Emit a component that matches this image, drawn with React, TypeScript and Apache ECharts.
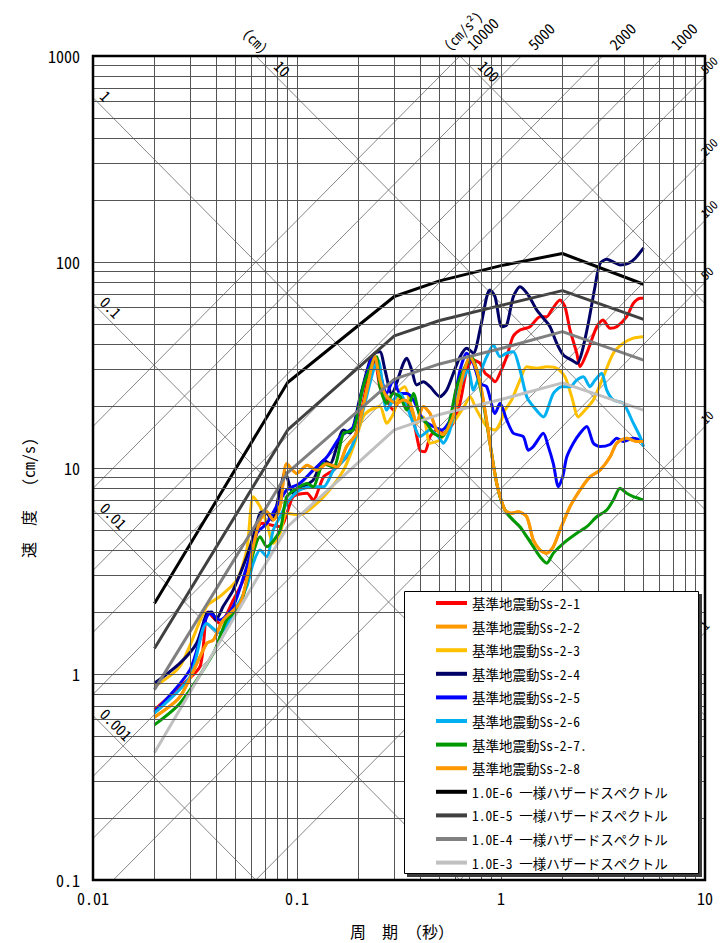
import React, { useEffect, useRef } from "react";
import * as echarts from "echarts";

// Tripartite response spectrum: pseudo-velocity vs. period, with
// constant displacement (cm) and constant acceleration (cm/s²) guide lines.

const FONT = "'Noto Sans Mono CJK JP', 'DejaVu Sans Mono', monospace";
const TWO_PI = 2 * Math.PI;

const T_MIN = 0.01;
const T_MAX = 10;
const SV_MIN = 0.1;
const SV_MAX = 1000;

const DISP_LINES = [0.001, 0.01, 0.1, 1, 10, 100];
const DISP_LABELS = ["0.001", "0.01", "0.1", "1", "10", "100"];
const ACC_LINES = [1, 10, 50, 100, 200, 500, 1000, 2000, 5000, 10000];
const ACC_LABELS = ["1", "10", "50", "100", "200", "500", "1000", "2000", "5000", "10000"];

// Uniform hazard spectra (annual exceedance probability)
const UHS_PERIODS = [0.02, 0.09, 0.3, 0.5, 1, 2, 5];
const UHS_1E6 = [2.2, 26, 68, 81, 96, 110, 78];
const UHS_1E5 = [1.33, 15.3, 43.8, 52, 61.6, 72.6, 52.7];
const UHS_1E4 = [0.84, 9.5, 27, 32, 38, 45.9, 33.4];
const UHS_1E3 = [0.415, 5.2, 15.3, 18.2, 21.5, 25.9, 19.1];

// Design basis ground motions: [period (s), velocity (cm/s)]
const SS2_1: [number, number][] = [
  [0.02, 0.669], [0.0267, 0.868], [0.0335, 1.09], [0.0366, 2.0], [0.0419, 1.76], [0.0487, 2.29],
  [0.0546, 2.86], [0.0611, 4.15], [0.0671, 5.39], [0.0826, 5.19], [0.0959, 7.26], [0.112, 7.54],
  [0.12, 6.99], [0.135, 9.06], [0.151, 9.76], [0.169, 10.9], [0.182, 11.8], [0.204, 17.7],
  [0.228, 29.9], [0.241, 32.8], [0.255, 24.8], [0.275, 21.4], [0.297, 19.1], [0.32, 21.4],
  [0.345, 20.6], [0.372, 17.1], [0.401, 12.2], [0.424, 12.0], [0.449, 14.2], [0.484, 15.3],
  [0.521, 14.8], [0.582, 16.5], [0.63, 20.7], [0.679, 29.9], [0.729, 33.4], [0.789, 32.3],
  [0.835, 28.9], [0.883, 27.7], [0.935, 26.2], [0.989, 28.9], [1.067, 34.7], [1.145, 43.4],
  [1.239, 46.8], [1.387, 48.5], [1.553, 54.3], [1.676, 54.3], [1.772, 58.5], [1.946, 65.4],
  [2.059, 60.7], [2.179, 46.8], [2.351, 36.1], [2.44, 31.0], [2.633, 36.1], [2.947, 48.5],
  [3.162, 52.3], [3.422, 47.7], [3.692, 48.5], [4.134, 54.3], [4.453, 63.0], [4.802, 66.7],
  [5.0, 66.7],
];

const SS2_8: [number, number][] = [
  [0.02, 0.617], [0.0267, 0.776], [0.0361, 1.41], [0.0389, 1.46], [0.0435, 1.83], [0.0526, 2.21],
  [0.0567, 2.86], [0.061, 4.15], [0.0659, 5.59], [0.0711, 6.13], [0.0765, 5.59], [0.0826, 6.49],
  [0.0891, 10.5], [0.0997, 9.41], [0.112, 10.3], [0.125, 9.76], [0.14, 10.5], [0.157, 10.1],
  [0.175, 12.7], [0.196, 14.8], [0.22, 23.9], [0.241, 34.7], [0.255, 26.7], [0.275, 22.2],
  [0.308, 20.6], [0.332, 21.4], [0.358, 20.6], [0.386, 16.5], [0.416, 19.9], [0.449, 18.4],
  [0.484, 15.3], [0.521, 14.5], [0.573, 17.1], [0.607, 20.6], [0.654, 28.8], [0.705, 34.7],
  [0.76, 29.9], [0.819, 21.4], [0.883, 13.2], [0.953, 8.42], [1.046, 6.25], [1.128, 6.03],
  [1.215, 6.13], [1.337, 5.8], [1.44, 4.47], [1.553, 4.0], [1.676, 3.86], [1.805, 4.15],
  [1.946, 5.0], [2.179, 6.49], [2.44, 7.82], [2.731, 9.06], [3.057, 9.76], [3.422, 11.3],
  [3.692, 13.2], [4.134, 13.95], [4.63, 13.44], [5.0, 13.44],
];

const SS2_2: [number, number][] = SS2_8.map(([t, v]) => [t, v]);

const SS2_3: [number, number][] = [
  [0.02, 0.868], [0.0267, 1.09], [0.0361, 2.13], [0.0419, 2.38], [0.0507, 2.86], [0.0567, 4.0],
  [0.061, 7.26], [0.0659, 6.49], [0.0711, 5.39], [0.0765, 4.31], [0.0826, 4.82], [0.0891, 6.03],
  [0.103, 5.91], [0.12, 6.49], [0.14, 7.54], [0.169, 9.76], [0.189, 12.7], [0.211, 17.7],
  [0.228, 19.1], [0.255, 19.9], [0.275, 16.5], [0.297, 18.4], [0.32, 23.9], [0.338, 24.8],
  [0.358, 20.6], [0.386, 16.5], [0.416, 17.7], [0.449, 13.2], [0.502, 13.7], [0.542, 15.3],
  [0.595, 17.1], [0.666, 20.2], [0.705, 22.2], [0.76, 19.1], [0.851, 15.9], [0.935, 15.3],
  [0.989, 16.5], [1.046, 19.1], [1.128, 21.4], [1.239, 26.7], [1.337, 31.0], [1.497, 30.5],
  [1.676, 31.0], [1.876, 30.5], [2.059, 27.7], [2.22, 22.2], [2.393, 17.7], [2.581, 19.1],
  [2.835, 21.4], [3.173, 27.7], [3.552, 36.1], [3.977, 40.3], [4.453, 42.7], [5.0, 43.4],
];

const SS2_4: [number, number][] = [
  [0.02, 0.901], [0.0267, 1.13], [0.0322, 1.41], [0.0361, 1.97], [0.0382, 2.0], [0.04, 1.83],
  [0.0435, 2.13], [0.0487, 2.56], [0.0567, 3.71], [0.061, 4.64], [0.0659, 6.03], [0.0697, 6.13],
  [0.0754, 5.59], [0.0826, 7.82], [0.0874, 9.57], [0.0959, 7.54], [0.107, 8.11], [0.12, 8.74],
  [0.135, 10.9], [0.145, 10.5], [0.169, 15.3], [0.182, 14.8], [0.204, 22.2], [0.228, 33.4],
  [0.241, 36.1], [0.255, 36.7], [0.27, 29.9], [0.291, 23.0], [0.332, 32.2], [0.345, 34.1],
  [0.365, 29.9], [0.386, 25.3], [0.416, 26.2], [0.449, 24.8], [0.502, 22.2], [0.542, 23.9],
  [0.584, 28.8], [0.63, 34.7], [0.679, 38.1], [0.732, 36.1], [0.789, 46.8], [0.851, 67.8],
  [0.883, 73.1], [0.935, 67.8], [1.008, 48.5], [1.067, 49.5], [1.149, 67.8], [1.239, 75.9],
  [1.361, 69.1], [1.497, 58.5], [1.612, 53.4], [1.739, 48.5], [1.876, 40.3], [2.022, 35.4],
  [2.22, 33.4], [2.363, 32.2], [2.486, 36.1], [2.679, 50.4], [2.889, 75.9], [3.057, 98.5],
  [3.299, 103], [3.552, 100], [3.831, 96.7], [4.207, 98.5], [4.539, 104], [5.0, 117],
];

const SS2_5: [number, number][] = [
  [0.02, 0.654], [0.0299, 1.05], [0.0375, 1.97], [0.0419, 1.83], [0.0487, 2.13], [0.0567, 3.32],
  [0.0635, 4.82], [0.0711, 5.39], [0.0826, 6.99], [0.0891, 7.82], [0.103, 8.42], [0.12, 9.76],
  [0.14, 11.3], [0.163, 14.2], [0.189, 15.9], [0.211, 24.8], [0.237, 34.7], [0.255, 28.8],
  [0.275, 23.0], [0.297, 26.7], [0.32, 23.0], [0.345, 23.0], [0.372, 21.4], [0.416, 17.1],
  [0.466, 15.9], [0.512, 15.3], [0.562, 17.1], [0.63, 29.9], [0.679, 36.1], [0.732, 32.2],
  [0.789, 25.7], [0.851, 24.8], [0.935, 18.4], [0.989, 20.6], [1.067, 17.1], [1.149, 14.75],
  [1.286, 14.2], [1.361, 12.2], [1.44, 12.7], [1.612, 14.75], [1.706, 12.7], [1.805, 10.5],
  [1.91, 8.11], [2.006, 9.06], [2.1, 11.3], [2.262, 13.2], [2.44, 14.75], [2.633, 15.9],
  [2.835, 13.2], [3.057, 12.7], [3.422, 13.0], [3.692, 13.95], [3.977, 13.44], [4.453, 13.95],
  [5.0, 13.44],
];

const SS2_6: [number, number][] = [
  [0.02, 0.645], [0.0299, 0.97], [0.0361, 1.76], [0.0419, 1.58], [0.0507, 2.13], [0.0567, 2.65],
  [0.061, 3.45], [0.0659, 4.0], [0.0711, 3.71], [0.0765, 5.0], [0.0826, 5.8], [0.0891, 6.74],
  [0.103, 7.82], [0.12, 8.11], [0.135, 8.11], [0.151, 9.76], [0.169, 10.9], [0.189, 13.2],
  [0.211, 19.1], [0.237, 29.9], [0.25, 33.4], [0.261, 26.7], [0.275, 19.1], [0.297, 21.4],
  [0.32, 23.0], [0.345, 19.9], [0.372, 16.5], [0.401, 14.2], [0.449, 15.3], [0.493, 14.2],
  [0.521, 13.2], [0.562, 15.3], [0.63, 24.8], [0.691, 29.9], [0.732, 23.9], [0.789, 28.8],
  [0.851, 34.7], [0.917, 39.5], [0.989, 34.7], [1.067, 36.1], [1.149, 36.7], [1.239, 29.9],
  [1.337, 22.2], [1.44, 19.9], [1.612, 17.7], [1.805, 23.0], [1.983, 24.8], [2.179, 24.8],
  [2.351, 26.7], [2.533, 27.7], [2.731, 24.8], [2.889, 26.7], [3.115, 28.8], [3.299, 23.9],
  [3.552, 21.4], [3.977, 20.6], [4.453, 16.5], [4.802, 14.2], [5.0, 12.7],
];

const SS2_7: [number, number][] = [
  [0.02, 0.566], [0.0267, 0.721], [0.0389, 1.26], [0.0452, 1.83], [0.0526, 2.13], [0.061, 3.86],
  [0.0659, 4.64], [0.0711, 4.15], [0.0826, 5.0], [0.0891, 7.26], [0.103, 8.11], [0.112, 8.42],
  [0.12, 8.11], [0.135, 10.5], [0.151, 10.1], [0.169, 14.75], [0.189, 15.3], [0.211, 24.8],
  [0.237, 33.4], [0.246, 34.7], [0.255, 24.8], [0.275, 20.6], [0.297, 23.0], [0.32, 22.2],
  [0.345, 19.1], [0.372, 23.0], [0.401, 17.7], [0.433, 16.5], [0.466, 14.75], [0.512, 14.2],
  [0.552, 15.9], [0.607, 24.8], [0.679, 32.2], [0.718, 34.7], [0.76, 29.9], [0.819, 20.6],
  [0.883, 13.2], [0.953, 8.42], [1.026, 6.49], [1.107, 5.8], [1.239, 5.19], [1.337, 4.64],
  [1.44, 4.15], [1.553, 3.71], [1.676, 3.45], [1.805, 3.86], [2.022, 4.31], [2.351, 4.82],
  [2.633, 5.19], [2.947, 5.8], [3.299, 6.25], [3.552, 6.99], [3.831, 7.97], [4.134, 7.54],
  [4.453, 7.26], [4.71, 7.13], [5.0, 6.99],
];

const MOTION_NAMES = [
  "基準地震動Ss-2-1",
  "基準地震動Ss-2-2",
  "基準地震動Ss-2-3",
  "基準地震動Ss-2-4",
  "基準地震動Ss-2-5",
  "基準地震動Ss-2-6",
  "基準地震動Ss-2-7.",
  "基準地震動Ss-2-8",
];
const MOTION_DATA = [SS2_1, SS2_2, SS2_3, SS2_4, SS2_5, SS2_6, SS2_7, SS2_8];
const MOTION_COLORS = ["#ff0000", "#ff9900", "#ffc000", "#000066", "#0000ff", "#00b0f0", "#009900", "#ff9900"];

const UHS_NAMES = [
  "1.0E-6 一様ハザードスペクトル",
  "1.0E-5 一様ハザードスペクトル",
  "1.0E-4 一様ハザードスペクトル",
  "1.0E-3 一様ハザードスペクトル",
];
const UHS_DATA = [UHS_1E6, UHS_1E5, UHS_1E4, UHS_1E3];
const UHS_COLORS = ["#000000", "#404040", "#808080", "#c0c0c0"];

const fmt = (v: number) => String(Number(v.toPrecision(4)));

function minorValues(decades: number[], skipFirst: boolean) {
  const out: number[] = [];
  decades.forEach((d, i) => {
    for (let k = 1; k <= 9; k++) {
      if (skipFirst && i === 0 && k === 1) continue;
      out.push(Number((k * d).toPrecision(3)));
    }
  });
  return out;
}

function buildOption(): echarts.EChartsOption {
  const gridX = minorValues([0.01, 0.1, 1], true);
  const gridY = minorValues([0.1, 1, 10, 100], true);

  const guide = { color: "#6a6a6a", width: 0.8 };
  const series: any[] = [
    {
      type: "line",
      name: "grid",
      data: [],
      silent: true,
      z: 1,
      markLine: {
        silent: true,
        symbol: ["none", "none"],
        label: { show: false },
        emphasis: { disabled: true },
        lineStyle: { color: "#555555", width: 1, type: "solid" },
        data: [...gridX.map((v) => ({ xAxis: v })), ...gridY.map((v) => ({ yAxis: v }))],
      },
    },
  ];

  DISP_LINES.forEach((d) => {
    series.push({
      type: "line",
      silent: true,
      z: 1,
      symbol: "none",
      clip: true,
      lineStyle: guide,
      data: [
        [T_MIN, (TWO_PI * d) / T_MIN],
        [T_MAX, (TWO_PI * d) / T_MAX],
      ],
    });
  });
  ACC_LINES.forEach((a) => {
    series.push({
      type: "line",
      silent: true,
      z: 1,
      symbol: "none",
      clip: true,
      lineStyle: guide,
      data: [
        [T_MIN, (a * T_MIN) / TWO_PI],
        [T_MAX, (a * T_MAX) / TWO_PI],
      ],
    });
  });

  MOTION_NAMES.forEach((name, i) => {
    series.push({
      type: "line",
      name,
      data: MOTION_DATA[i],
      symbol: "none",
      smooth: 0.25,
      z: 3,
      color: MOTION_COLORS[i],
      lineStyle: { color: MOTION_COLORS[i], width: 3 },
    });
  });
  UHS_NAMES.forEach((name, i) => {
    series.push({
      type: "line",
      name,
      data: UHS_PERIODS.map((t, j) => [t, UHS_DATA[i][j]]),
      symbol: "none",
      z: 4,
      color: UHS_COLORS[i],
      lineStyle: { color: UHS_COLORS[i], width: 3 },
    });
  });

  const axisLabel = {
    fontFamily: FONT,
    fontSize: 16,
    color: "#000",
    formatter: (v: number) => fmt(v),
    showMinLabel: true,
    showMaxLabel: true,
  };

  return {
    animation: false,
    backgroundColor: "#ffffff",
    grid: {
      left: 93,
      right: 19,
      top: 56,
      bottom: 63,
      show: true,
      borderColor: "#000",
      borderWidth: 2.5,
      backgroundColor: "transparent",
      z: 6,
    },
    xAxis: {
      type: "log",
      logBase: 10,
      min: T_MIN,
      max: T_MAX,
      axisLine: { show: false },
      axisTick: { show: false },
      splitLine: { show: false },
      axisLabel: { ...axisLabel, margin: 10 },
    },
    yAxis: {
      type: "log",
      logBase: 10,
      min: SV_MIN,
      max: SV_MAX,
      axisLine: { show: false },
      axisTick: { show: false },
      splitLine: { show: false },
      axisLabel: { ...axisLabel, margin: 13 },
    },
    legend: {
      orient: "vertical",
      left: 436,
      top: 595,
      padding: 0,
      itemWidth: 31,
      itemHeight: 4,
      itemGap: 7.6,
      icon: "rect",
      selectedMode: false,
      z: 20,
      textStyle: { fontFamily: FONT, fontSize: 13.5, color: "#000", lineHeight: 16 },
      data: [...MOTION_NAMES, ...UHS_NAMES],
    },
    series,
  };
}

function buildGraphics(chart: echarts.ECharts) {
  const px = (t: number, v: number): [number, number] => {
    const p = chart.convertToPixel({ gridIndex: 0 }, [t, v]) as number[];
    return [p[0], p[1]];
  };
  const unit = (a: [number, number], b: [number, number]): [number, number] => {
    const dx = b[0] - a[0];
    const dy = b[1] - a[1];
    const l = Math.hypot(dx, dy);
    return [dx / l, dy / l];
  };
  const labelStyle = (text: string, size: number, align: string, vAlign: string) => ({
    text,
    fontFamily: FONT,
    fontSize: size,
    fill: "#000",
    align,
    verticalAlign: vAlign,
  });

  const elements: any[] = [];

  // legend frame with its drop shadow
  elements.push({ type: "rect", id: "legendShadow", z: 10, shape: { x: 407, y: 594, width: 295, height: 283 }, style: { fill: "#3a3a3a" } });
  elements.push({ type: "rect", id: "legendBox", z: 11, shape: { x: 404.5, y: 591.5, width: 294, height: 282 }, style: { fill: "#fff", stroke: "#000", lineWidth: 1 } });

  // constant-displacement labels
  let dispUnitAnchor: { p: [number, number]; d: [number, number] } | null = null;
  DISP_LINES.forEach((d, i) => {
    const svLeft = (TWO_PI * d) / T_MIN;
    let t: number, v: number, along: number;
    if (svLeft <= SV_MAX) {
      t = T_MIN; v = svLeft; along = 4;
    } else {
      t = (TWO_PI * d) / SV_MAX; v = SV_MAX; along = 20;
    }
    const p0 = px(t, v);
    const dir = unit(p0, px(t * 2, v / 2));
    const n: [number, number] = [dir[1], -dir[0]];
    if (d === 10) dispUnitAnchor = { p: p0, d: dir };
    elements.push({
      type: "text",
      id: "disp" + i,
      z: 5,
      x: p0[0] + dir[0] * along + n[0] * 3,
      y: p0[1] + dir[1] * along + n[1] * 3,
      rotation: -Math.atan2(dir[1], dir[0]),
      style: labelStyle(DISP_LABELS[i], 15, "left", "bottom"),
    });
  });
  if (dispUnitAnchor) {
    const { p, d } = dispUnitAnchor as { p: [number, number]; d: [number, number] };
    const n: [number, number] = [d[1], -d[0]];
    elements.push({
      type: "text",
      id: "dispUnit",
      z: 5,
      x: p[0] - d[0] * 11 + n[0] * 11,
      y: p[1] - d[1] * 11 + n[1] * 11,
      rotation: -Math.atan2(d[1], d[0]),
      style: labelStyle("(cm)", 14, "center", "middle"),
    });
  }

  // constant-acceleration labels (top edge, then right edge)
  ACC_LINES.forEach((a, i) => {
    const tTop = (TWO_PI * SV_MAX) / a;
    const onTop = tTop <= T_MAX;
    const t = onTop ? tTop : T_MAX;
    const v = onTop ? SV_MAX : (a * T_MAX) / TWO_PI;
    const p0 = px(t, v);
    const u = unit(px(t / 2, v / 2), p0);
    const along = onTop ? 13 : 2;
    elements.push({
      type: "text",
      id: "acc" + i,
      z: 5,
      x: p0[0] + u[0] * along,
      y: p0[1] + u[1] * along,
      rotation: -Math.atan2(u[1], u[0]),
      style: labelStyle(ACC_LABELS[i], onTop ? 15 : 12, "left", onTop ? "middle" : "bottom"),
    });
    if (a === 10000) {
      const m: [number, number] = [-u[1], u[0]];
      elements.push({
        type: "text",
        id: "accUnit",
        z: 5,
        x: p0[0] + u[0] * 20 - m[0] * 16,
        y: p0[1] + u[1] * 20 - m[1] * 16,
        rotation: -Math.atan2(u[1], u[0]),
        style: labelStyle("(cm/s²)", 14, "center", "middle"),
      });
    }
  });

  // axis titles
  elements.push({
    type: "text",
    id: "yName",
    z: 5,
    x: 28,
    y: 498,
    rotation: Math.PI / 2,
    style: labelStyle("速　度　 (cm/s)", 16, "center", "middle"),
  });
  elements.push({
    type: "text",
    id: "xName",
    z: 5,
    x: 402,
    y: 931,
    style: labelStyle("周　期　（秒）", 16, "center", "middle"),
  });

  return elements;
}

export default function App() {
  const ref = useRef<HTMLDivElement>(null);
  useEffect(() => {
    const el = ref.current;
    if (!el) return;
    const chart = echarts.init(el, undefined, { renderer: "svg" });
    chart.setOption(buildOption());
    chart.setOption({ graphic: { elements: buildGraphics(chart) } });
    return () => chart.dispose();
  }, []);
  return (
    <div
      ref={ref}
      style={{ position: "absolute", left: 0, top: 0, width: 724, height: 943, background: "#fff" }}
    />
  );
}
